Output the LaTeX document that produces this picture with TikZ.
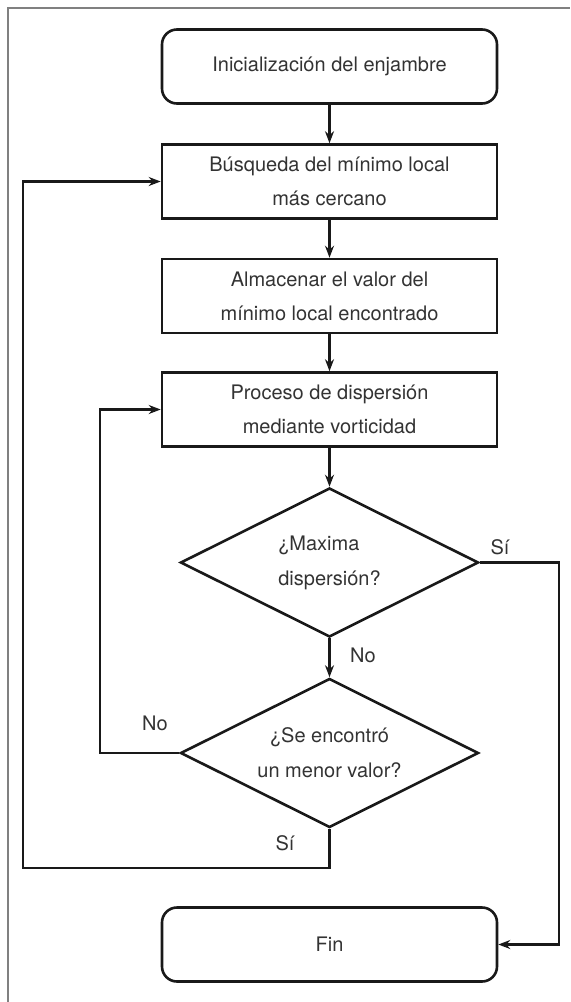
\documentclass[tikz,border=0pt]{standalone}
\usepackage{fontspec}
\setmainfont{TeX Gyre Heros}
\usetikzlibrary{arrows.meta, shapes.geometric}

\begin{document}
\begin{tikzpicture}[x=0.5pt, y=-0.5pt,
    caja/.style={draw=black!90, line width=1.3pt, minimum width=167.5pt,
        minimum height=37pt, inner sep=0pt, align=center, text=black!80,
        font=\fontsize{10}{17}\selectfont},
    extremo/.style={caja, rounded corners=7.5pt},
    decision/.style={diamond, aspect=2, draw=black!90, line width=1.3pt,
        minimum width=149pt, minimum height=74.5pt, inner sep=0pt,
        text=black!80, font=\fontsize{10}{17.5}\selectfont},
    flecha/.style={draw=black!90, line width=1.3pt,
        -{Stealth[length=6pt, width=4.5pt, inset=2pt]}},
    etiq/.style={text=black!80, font=\fontsize{10}{12}\selectfont}]
% 1. 边框与画布大小
\useasboundingbox (0, 0) rectangle (570, 1002);
\coordinate (marcoA) at (8, 1002);
\coordinate (marcoB) at (8, 8);
\coordinate (marcoC) at (570, 8);
\draw[black!50, line width=0.8pt] (marcoA) -- (marcoB) -- (marcoC);

% 2. 流程框
\node[extremo] (inicio)   at (329.5, 66.5)  {Inicialización del enjambre};
\node[caja]    (busqueda) at (329.5, 181.5) {Búsqueda del mínimo local\\más cercano};
\node[caja]    (almacen)  at (329.5, 296)   {Almacenar el valor del\\mínimo local encontrado};
\node[caja]    (proceso)  at (329.5, 409.5) {Proceso de dispersión\\mediante vorticidad};
\node[decision, align=left]   (dec1) at (329.5, 562.5) {¿Maxima\\dispersión?};
\node[decision, align=center] (dec2) at (329.5, 753)   {¿Se encontró\\un menor valor?};
\node[extremo] (fin)      at (329.5, 944.5) {Fin};

% 3. 主干箭头
\foreach \a/\b in
    {inicio/busqueda, busqueda/almacen, almacen/proceso, proceso/dec1, dec1/dec2}
    {\draw[flecha] (\a) -- (\b);
    }

% 4. 回路与出口
\coordinate (siDer) at (559, 562.5);
\coordinate (noIzq) at (100, 753);
\coordinate (siAbj) at (329.5, 868);
\coordinate (bucle) at (23, 868);
\draw[flecha] (dec1.east) -- (siDer) |- (fin.east);
\draw[flecha] (dec2.west) -- (noIzq) |- (proceso.west);
\draw[flecha] (dec2.south) -- (siAbj) -- (bucle) |- (busqueda.west);

% 5. 标注
\node[etiq] (lsi1) at (500, 547) {Sí};
\node[etiq] (lno1) at (363, 655) {No};
\node[etiq] (lno2) at (155, 723) {No};
\node[etiq] (lsi2) at (285, 843) {Sí};
\end{tikzpicture}
\end{document}
